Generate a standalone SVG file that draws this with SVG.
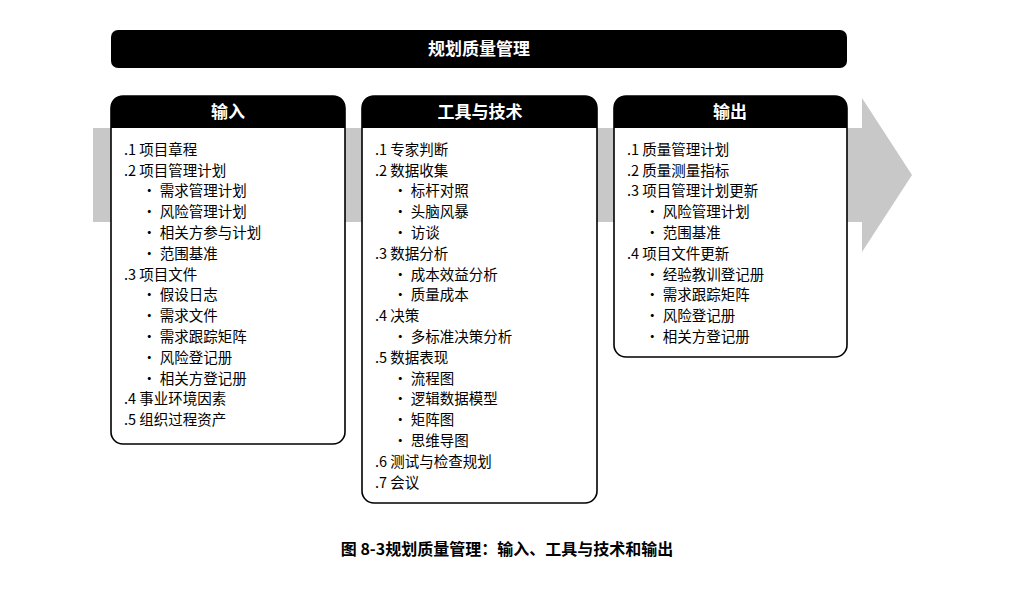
<svg xmlns="http://www.w3.org/2000/svg" width="1014" height="606" viewBox="0 0 1014 606">
<style>
text{font-family:"Noto Sans CJK SC","Liberation Sans",sans-serif;}
.h{fill:#fff;font-weight:bold;font-size:17px;text-anchor:middle;}
.t{font-size:14.5px;fill:#000;}
.box{fill:#fff;stroke:#000;stroke-width:1.6;}
</style>
<rect width="1014" height="606" fill="#fff"/>
<g id="arrow"><polygon points="93,128 862,128 862,98 912,175 862,252 862,222 93,222" fill="#c8c8c8"/></g>
<g id="title"><rect x="111" y="30" width="736" height="38" rx="7" fill="#000"/><text class="h" x="479" y="55">规划质量管理</text></g>
<g id="input">
<rect class="box" x="111" y="96" width="234" height="348" rx="12"/>
<path d="M111,128 V108 Q111,96 123,96 H333 Q345,96 345,108 V128 Z" fill="#000"/>
<text class="h" x="228" y="118">输入</text>
<g class="t">
<text x="124" y="155">.1 项目章程</text>
<text x="124" y="176">.2 项目管理计划</text>
<text x="142" y="196">• 需求管理计划</text>
<text x="142" y="217">• 风险管理计划</text>
<text x="142" y="238">• 相关方参与计划</text>
<text x="142" y="259">• 范围基准</text>
<text x="124" y="280">.3 项目文件</text>
<text x="142" y="300">• 假设日志</text>
<text x="142" y="321">• 需求文件</text>
<text x="142" y="342">• 需求跟踪矩阵</text>
<text x="142" y="363">• 风险登记册</text>
<text x="142" y="384">• 相关方登记册</text>
<text x="124" y="404">.4 事业环境因素</text>
<text x="124" y="425">.5 组织过程资产</text>
</g></g>
<g id="tools">
<rect class="box" x="362" y="96" width="235" height="407" rx="12"/>
<path d="M362,128 V108 Q362,96 374,96 H585 Q597,96 597,108 V128 Z" fill="#000"/>
<text class="h" x="480" y="118">工具与技术</text>
<g class="t">
<text x="375" y="155">.1 专家判断</text>
<text x="375" y="176">.2 数据收集</text>
<text x="393" y="196">• 标杆对照</text>
<text x="393" y="217">• 头脑风暴</text>
<text x="393" y="238">• 访谈</text>
<text x="375" y="259">.3 数据分析</text>
<text x="393" y="280">• 成本效益分析</text>
<text x="393" y="300">• 质量成本</text>
<text x="375" y="321">.4 决策</text>
<text x="393" y="342">• 多标准决策分析</text>
<text x="375" y="363">.5 数据表现</text>
<text x="393" y="384">• 流程图</text>
<text x="393" y="404">• 逻辑数据模型</text>
<text x="393" y="425">• 矩阵图</text>
<text x="393" y="446">• 思维导图</text>
<text x="375" y="467">.6 测试与检查规划</text>
<text x="375" y="488">.7 会议</text>
</g></g>
<g id="output">
<rect class="box" x="614" y="96" width="233" height="261" rx="12"/>
<path d="M614,128 V108 Q614,96 626,96 H835 Q847,96 847,108 V128 Z" fill="#000"/>
<text class="h" x="730" y="118">输出</text>
<g class="t">
<text x="627" y="155">.1 质量管理计划</text>
<text x="627" y="176">.2 质量测量指标</text>
<text x="627" y="196">.3 项目管理计划更新</text>
<text x="645" y="217">• 风险管理计划</text>
<text x="645" y="238">• 范围基准</text>
<text x="627" y="259">.4 项目文件更新</text>
<text x="645" y="280">• 经验教训登记册</text>
<text x="645" y="300">• 需求跟踪矩阵</text>
<text x="645" y="321">• 风险登记册</text>
<text x="645" y="342">• 相关方登记册</text>
</g></g>
<g id="connectors"></g>
<text x="507" y="555" text-anchor="middle" font-weight="bold" font-size="16">图 8-3规划质量管理：输入、工具与技术和输出</text>
</svg>
